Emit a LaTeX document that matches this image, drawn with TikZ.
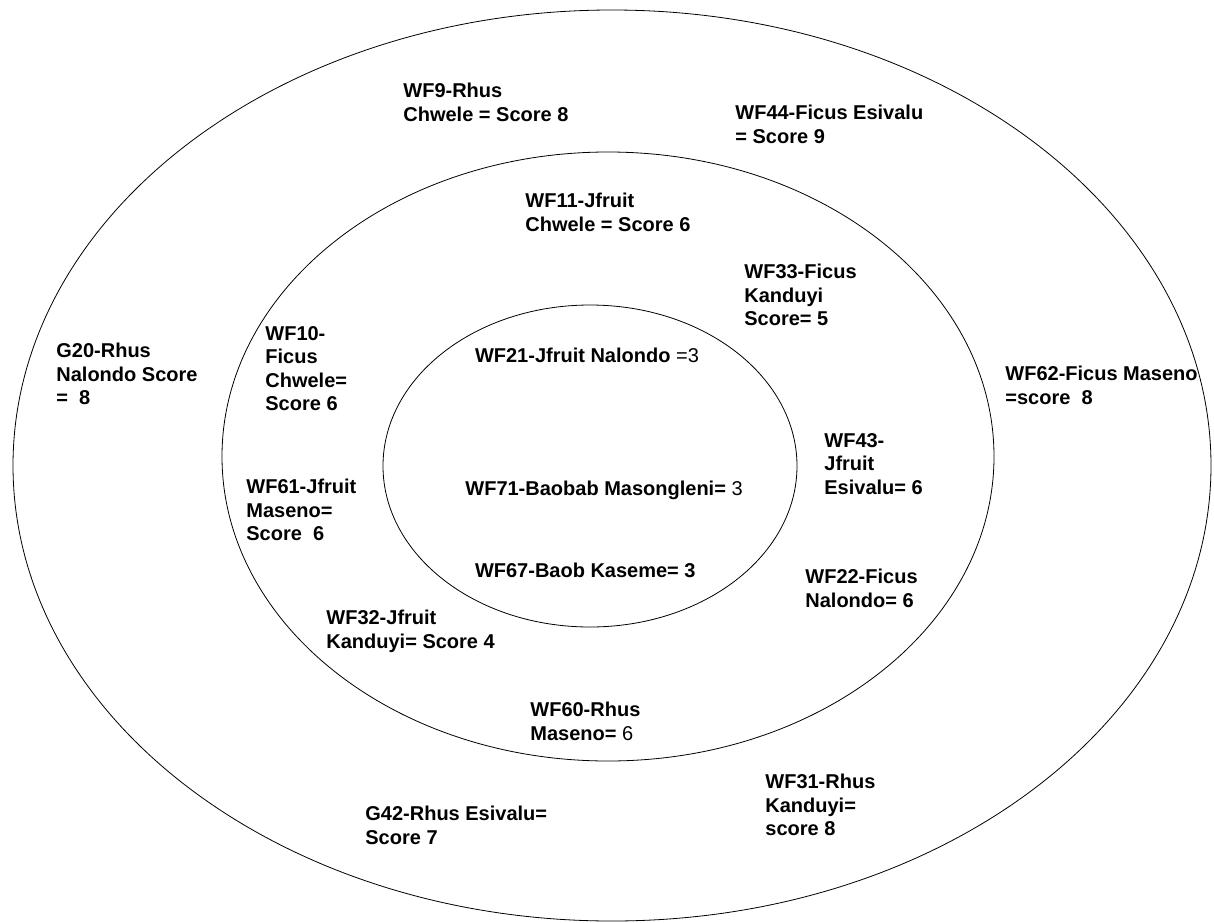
\documentclass[tikz,border=0pt]{standalone}
\usepackage{fontspec}
\setmainfont{Liberation Sans}

\begin{document}
\begin{tikzpicture}[x=0.75pt, y=-0.75pt, line width=0.6pt,
  every node/.style={font=\fontsize{15}{17.6}\selectfont\bfseries, align=left, anchor=north west, inner sep=0pt}]
	\useasboundingbox (0,0) rectangle (1214,922);
	% rings
	\draw (612,465.5) ellipse [x radius=599, y radius=455.5];
	\draw (608,456.5) ellipse [x radius=386, y radius=304.5];
	\draw (590,466) ellipse [x radius=207, y radius=161];
	% outer ring
	\node (wf9) at (403,83) {WF9-Rhus\\Chwele = Score 8};
	\node (wf44) at (735,105) {WF44-Ficus Esivalu\\= Score 9};
	\node (g20) at (56,343) {G20-Rhus\\Nalondo Score\\=\ \ 8};
	\node (wf62) at (1005,366) {WF62-Ficus Maseno\\=score\ \ 8};
	\node (wf31) at (765,774) {WF31-Rhus\\Kanduyi=\\score 8};
	\node (g42) at (365,806) {G42-Rhus Esivalu=\\Score 7};
	% middle ring
	\node (wf11) at (525,193) {WF11-Jfruit\\Chwele = Score 6};
	\node (wf33) at (744,264) {WF33-Ficus\\Kanduyi\\Score= 5};
	\node (wf10) at (265,326) {WF10-\\Ficus\\Chwele=\\Score 6};
	\node (wf43) at (824,433) {WF43-\\Jfruit\\Esivalu= 6};
	\node (wf61) at (246,479) {WF61-Jfruit\\Maseno=\\Score\ \ 6};
	\node (wf22) at (805,569) {WF22-Ficus\\Nalondo= 6};
	\node (wf32) at (326,610) {WF32-Jfruit\\Kanduyi= Score 4};
	\node (wf60) at (530,702) {WF60-Rhus\\Maseno= {\mdseries 6}};
	% inner ring
	\node (wf21) at (474.6,348) {WF21-Jfruit Nalondo {\mdseries =3}};
	\node (wf71) at (465,481) {WF71-Baobab Masongleni= {\mdseries 3}};
	\node (wf67) at (474.6,563) {WF67-Baob Kaseme= 3};
\end{tikzpicture}
\end{document}
